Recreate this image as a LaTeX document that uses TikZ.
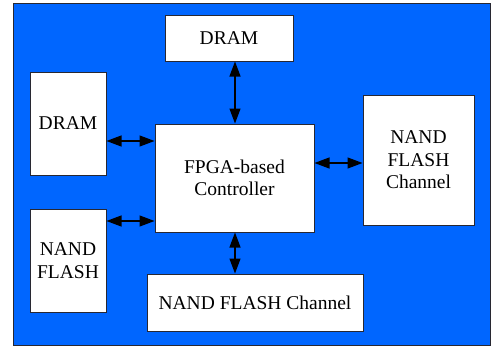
\documentclass[tikz,border=0pt]{standalone}
\usepackage{fontspec}
\setmainfont{Liberation Serif}
\usetikzlibrary{arrows.meta}
\definecolor{bgblue}{RGB}{0,102,255}
\definecolor{edge}{RGB}{40,40,50}
\begin{document}
\begin{tikzpicture}[x=1pt,y=-1pt,
  blk/.style={draw=edge,fill=white,line width=1pt,inner sep=0pt,align=center,
    font=\fontsize{19.5}{22.5}\selectfont},
  arr/.style={line width=1.2pt,{Triangle[length=15pt,width=11pt]}-{Triangle[length=15pt,width=11pt]}}]
\useasboundingbox (0,0) rectangle (493,348);
\draw[fill=bgblue,draw=edge,line width=1pt] (13,3.5) rectangle (490.5,345.5);
\node[blk,minimum width=128pt,minimum height=46pt] (dramtop) at (229,38) {DRAM};
\node[blk,minimum width=76pt,minimum height=103pt] (dramleft) at (68,123.5) {DRAM};
\node[blk,minimum width=159pt,minimum height=108pt] (fpga) at (234.5,178) {FPGA-based\\Controller};
\node[blk,minimum width=111pt,minimum height=130pt] (chright) at (418.5,160) {NAND\\FLASH\\Channel};
\node[blk,minimum width=76pt,minimum height=103pt] (nandleft) at (68,260.5) {NAND\\FLASH};
\node[blk,minimum width=216pt,minimum height=57pt] (chbottom) at (255,302.5) {NAND FLASH Channel};
\coordinate (vx) at (235,0);
\coordinate (y1) at (0,141);
\coordinate (y2) at (0,221);
\coordinate (y3) at (0,163);
\draw[arr] (dramtop.south -| vx) -- (fpga.north -| vx);
\draw[arr] (dramleft.east |- y1) -- (fpga.west |- y1);
\draw[arr] (nandleft.east |- y2) -- (fpga.west |- y2);
\draw[arr] (fpga.east |- y3) -- (chright.west |- y3);
\draw[arr] (fpga.south -| vx) -- (chbottom.north -| vx);
\end{tikzpicture}
\end{document}
